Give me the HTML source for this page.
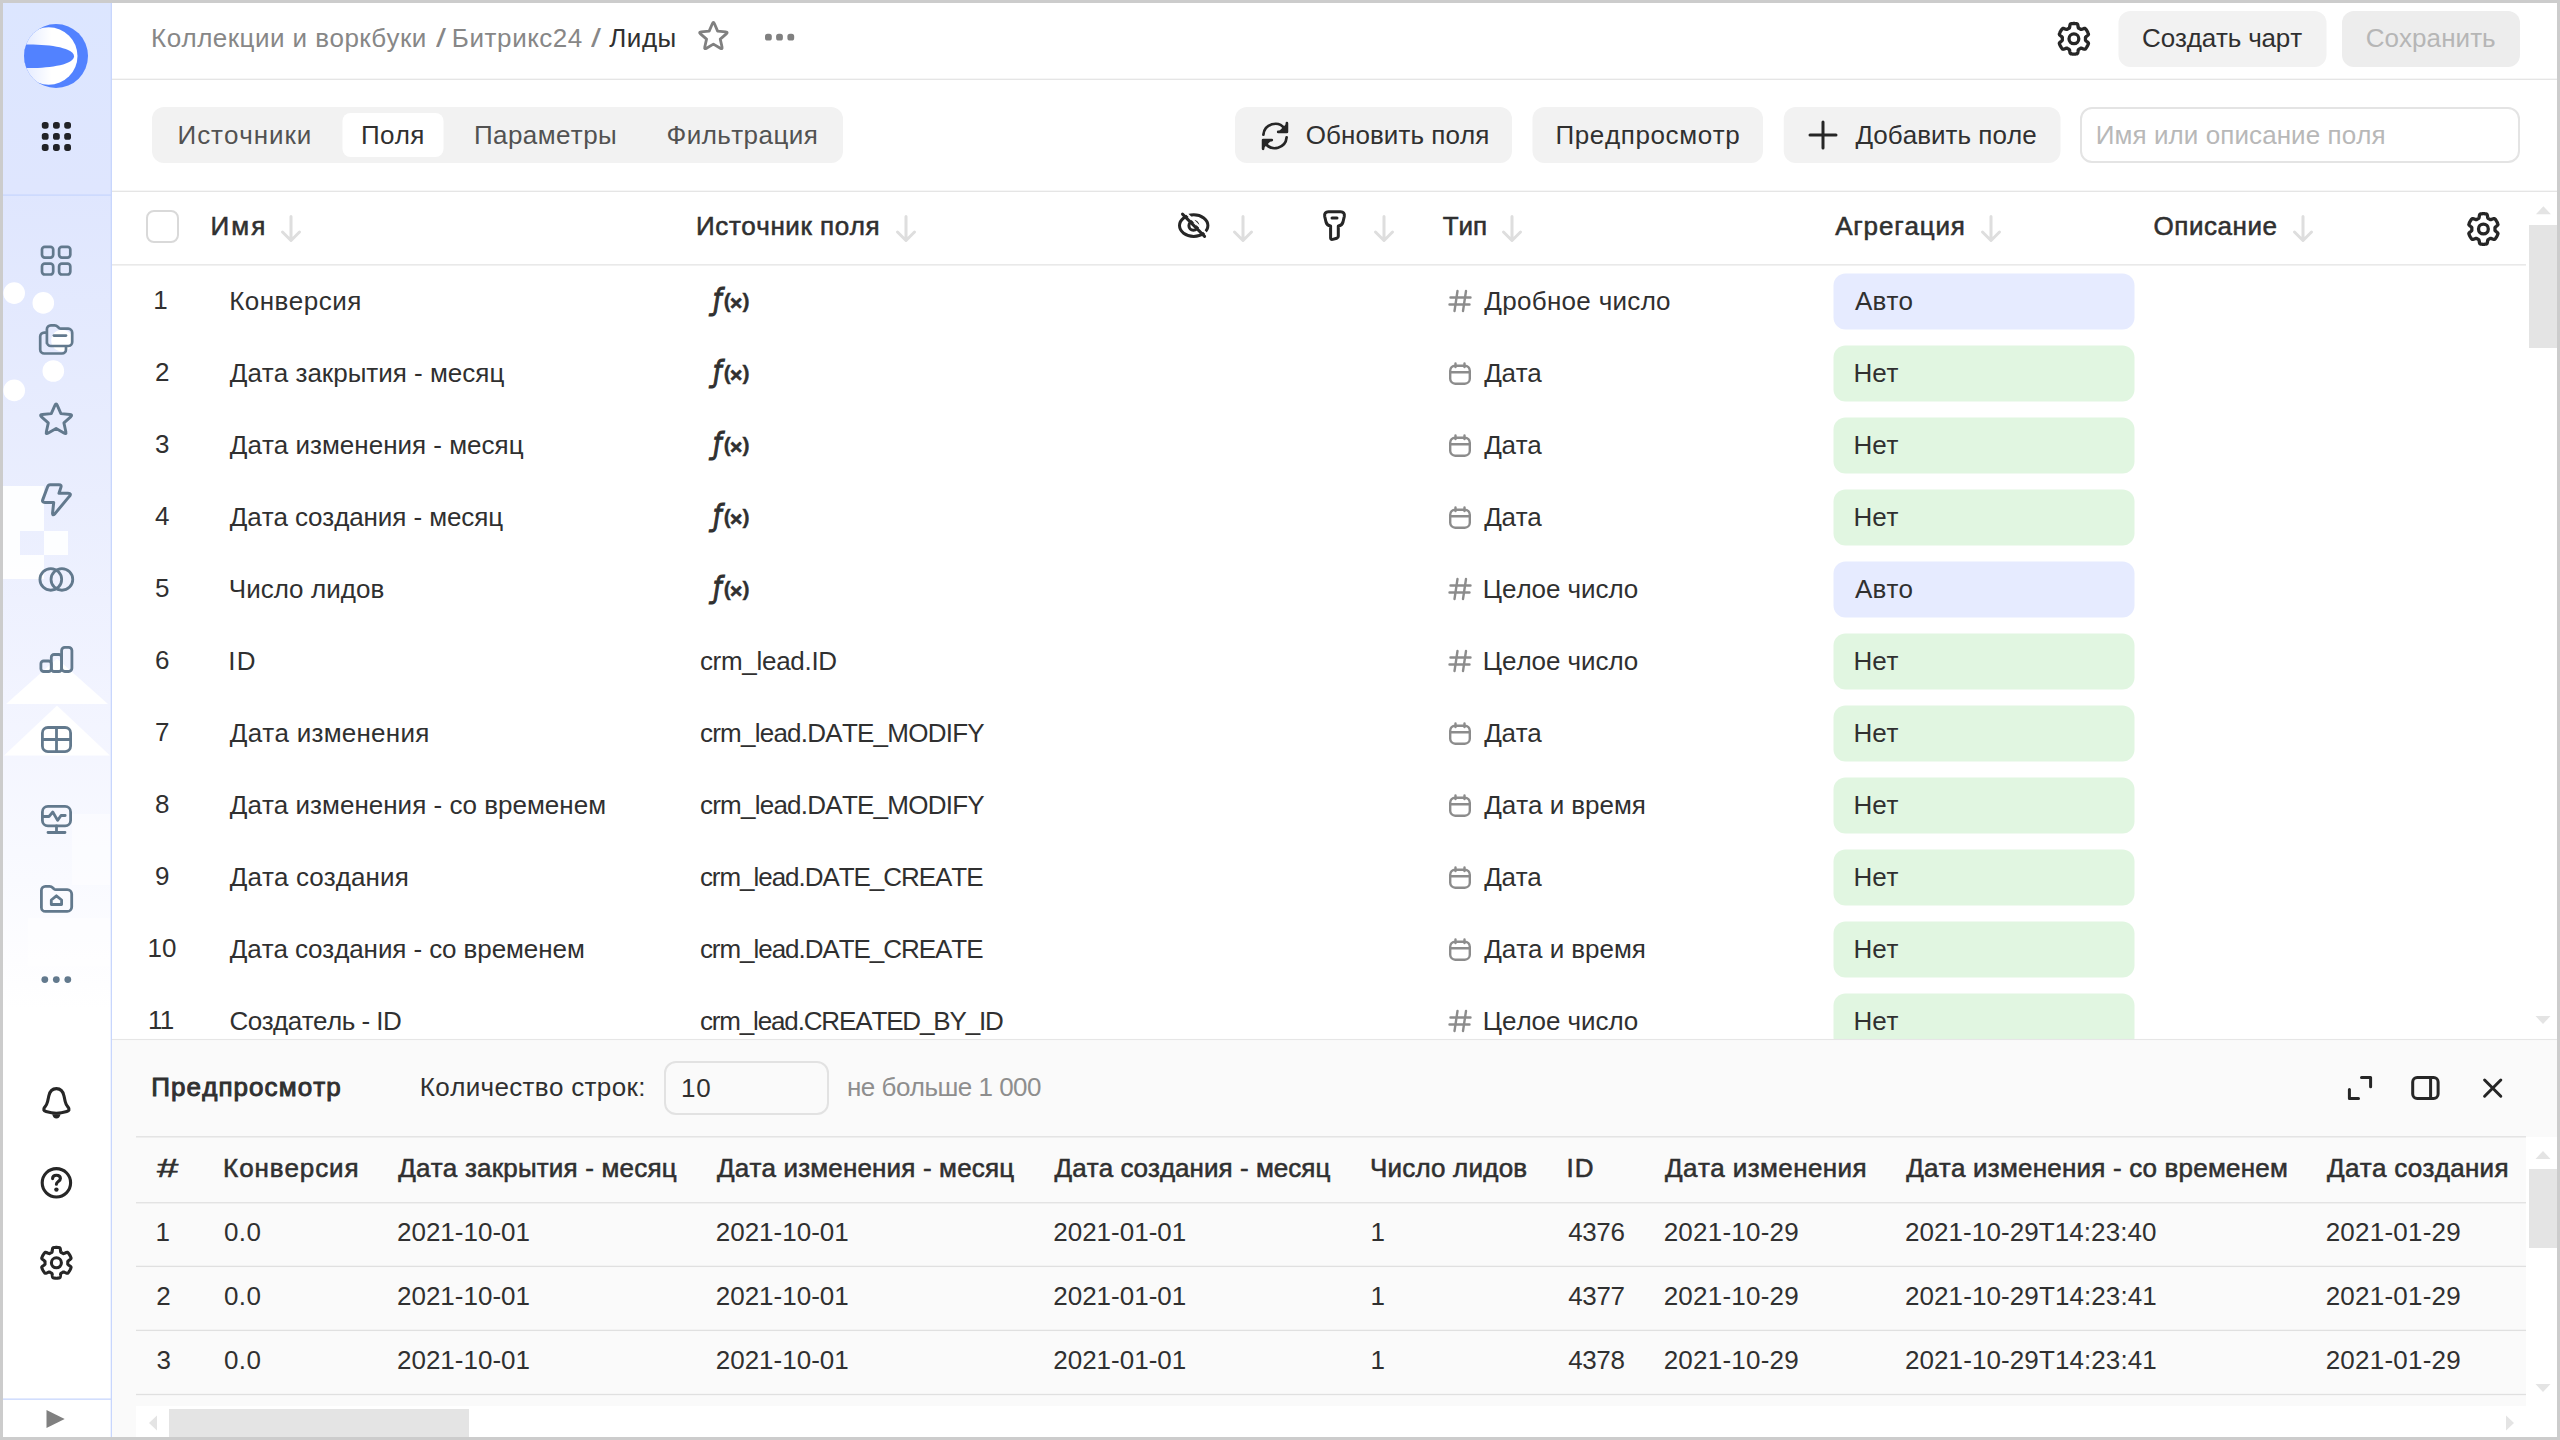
<!DOCTYPE html>
<html lang="ru"><head><meta charset="utf-8"><title>Лиды</title>
<style>
html,body{margin:0;padding:0}
body{width:2560px;height:1440px;overflow:hidden;background:#ccc;position:relative;font-family:"Liberation Sans",sans-serif;font-kerning:none;-webkit-font-smoothing:antialiased}
#app{position:absolute;left:3px;top:3px;width:2554px;height:1434px;background:#fff;overflow:hidden}
#page{position:absolute;left:-3px;top:-3px;width:2560px;height:1440px}
.b{position:absolute;box-sizing:border-box;display:block}
.t{position:absolute;white-space:pre;display:block}
</style></head><body><div id="app"><div id="page">
<svg class="b" style="left:0;top:0" width="2560" height="1440" viewBox="0 0 2560 1440"><rect x="2118.5" y="11" width="208" height="56" rx="12" fill="#f2f2f2"/><rect x="152" y="107" width="691.01" height="56" rx="12" fill="#f2f2f2"/><rect x="342.5" y="113" width="101" height="44" rx="8" fill="#fff"/><rect x="1532.5" y="107" width="230.5" height="56" rx="12" fill="#f2f2f2"/><rect x="1783.75" y="107" width="276.75" height="56" rx="12" fill="#f2f2f2"/><rect x="1833.5" y="273.5" width="301" height="56" rx="12" fill="#e6ebff"/><rect x="1833.5" y="345.5" width="301" height="56" rx="12" fill="#e1f6e1"/><rect x="1833.5" y="417.5" width="301" height="56" rx="12" fill="#e1f6e1"/><rect x="1833.5" y="489.5" width="301" height="56" rx="12" fill="#e1f6e1"/><rect x="1833.5" y="561.5" width="301" height="56" rx="12" fill="#e6ebff"/><rect x="1833.5" y="633.5" width="301" height="56" rx="12" fill="#e1f6e1"/><rect x="1833.5" y="705.5" width="301" height="56" rx="12" fill="#e1f6e1"/><rect x="1833.5" y="777.5" width="301" height="56" rx="12" fill="#e1f6e1"/><rect x="1833.5" y="849.5" width="301" height="56" rx="12" fill="#e1f6e1"/><rect x="1833.5" y="921.5" width="301" height="56" rx="12" fill="#e1f6e1"/><rect x="1833.5" y="993.5" width="301" height="56" rx="12" fill="#e1f6e1"/></svg>
<div class="b " style="left:112px;top:1040px;width:2448px;height:400px;background:#fafafa;"></div>
<div class="b " style="left:2526px;top:1137px;width:34px;height:303px;background:#fff;"></div>
<div class="b " style="left:136px;top:1406px;width:2390px;height:34px;background:#fff;"></div>
<svg class="b" style="left:0;top:0" width="2560" height="1440" viewBox="0 0 2560 1440"><rect x="112" y="78.65" width="2448" height="1.3" fill="#e4e4e4"/><rect x="112" y="190.65" width="2448" height="1.3" fill="#e4e4e4"/><rect x="112" y="264.20" width="2414" height="1.3" fill="#e4e4e4"/><rect x="112" y="1038.95" width="2448" height="1.1" fill="#e6e6e6"/><rect x="136" y="1136.15" width="2390" height="1.3" fill="#e0e0e0"/><rect x="136" y="1202.10" width="2390" height="1.3" fill="#e0e0e0"/><rect x="136" y="1265.75" width="2390" height="1.3" fill="#e0e0e0"/><rect x="136" y="1329.75" width="2390" height="1.3" fill="#e0e0e0"/><rect x="136" y="1393.85" width="2390" height="1.3" fill="#e0e0e0"/></svg>
<div class="b " style="left:2529px;top:225px;width:31px;height:123px;background:#e4e4e4;"></div>
<div class="b " style="left:2529px;top:1169px;width:31px;height:79px;background:#e4e4e4;"></div>
<div class="b " style="left:169px;top:1409px;width:300px;height:31px;background:#e4e4e4;"></div>
<svg class="b" style="left:0;top:0" width="2560" height="1440" viewBox="0 0 2560 1440"><polygon points="2535.9,214.2 2550.9,214.2 2543.4,206.2" fill="#e4e4e4"/></svg>
<svg class="b" style="left:0;top:0" width="2560" height="1440" viewBox="0 0 2560 1440"><polygon points="2535.5,1016 2550.5,1016 2543,1024" fill="#e4e4e4"/></svg>
<svg class="b" style="left:0;top:0" width="2560" height="1440" viewBox="0 0 2560 1440"><polygon points="2535.5,1159 2550.5,1159 2543,1151" fill="#e4e4e4"/></svg>
<svg class="b" style="left:0;top:0" width="2560" height="1440" viewBox="0 0 2560 1440"><polygon points="2535.5,1384 2550.5,1384 2543,1392" fill="#e4e4e4"/></svg>
<svg class="b" style="left:0;top:0" width="2560" height="1440" viewBox="0 0 2560 1440"><polygon points="157,1415.5 157,1430.5 149,1423" fill="#e4e4e4"/></svg>
<svg class="b" style="left:0;top:0" width="2560" height="1440" viewBox="0 0 2560 1440"><polygon points="2506,1415.5 2506,1430.5 2514,1423" fill="#e4e4e4"/></svg>
<span class="t" style="left:151.12px;top:22.49px;font-size:26px;line-height:32px;color:#878787;letter-spacing:0.452px;">Коллекции и воркбуки</span>
<span class="t" style="left:435.75px;top:22.49px;font-size:26px;line-height:32px;color:#878787;transform:scaleX(1.384);transform-origin:0 0;">/</span>
<span class="t" style="left:451.87px;top:22.49px;font-size:26px;line-height:32px;color:#878787;letter-spacing:0.578px;">Битрикс24</span>
<span class="t" style="left:590.75px;top:22.49px;font-size:26px;line-height:32px;color:#878787;transform:scaleX(1.384);transform-origin:0 0;">/</span>
<span class="t" style="left:609.27px;top:22.49px;font-size:26px;line-height:32px;color:#303030;letter-spacing:0.529px;">Лиды</span>
<span class="t" style="left:2142.08px;top:22.49px;font-size:26px;line-height:32px;color:#303030;letter-spacing:-0.170px;">Создать чарт</span>
<div class="b " style="left:2342px;top:11px;width:178px;height:56px;background:#ededed;border-radius:12px;"></div>
<span class="t" style="left:2365.68px;top:22.49px;font-size:26px;line-height:32px;color:#b6b6b6;letter-spacing:0.062px;">Сохранить</span>
<span class="t" style="left:177.57px;top:118.99px;font-size:26px;line-height:32px;color:#525252;letter-spacing:0.907px;">Источники</span>
<span class="t" style="left:360.89px;top:118.99px;font-size:26px;line-height:32px;color:#303030;letter-spacing:0.338px;">Поля</span>
<span class="t" style="left:473.89px;top:118.99px;font-size:26px;line-height:32px;color:#525252;letter-spacing:0.432px;">Параметры</span>
<span class="t" style="left:666.50px;top:118.99px;font-size:26px;line-height:32px;color:#525252;letter-spacing:0.441px;">Фильтрация</span>
<div class="b " style="left:1235px;top:107px;width:277px;height:56px;background:#f2f2f2;border-radius:12px;"></div>
<span class="t" style="left:1305.77px;top:118.99px;font-size:26px;line-height:32px;color:#303030;letter-spacing:0.066px;">Обновить поля</span>
<span class="t" style="left:1555.39px;top:118.99px;font-size:26px;line-height:32px;color:#303030;letter-spacing:0.634px;">Предпросмотр</span>
<span class="t" style="left:1855.56px;top:118.99px;font-size:26px;line-height:32px;color:#303030;letter-spacing:0.041px;">Добавить поле</span>
<div class="b " style="left:2080px;top:107px;width:440px;height:56px;background:#fff;border-radius:12px;border:2px solid #e4e4e4;"></div>
<span class="t" style="left:2095.87px;top:118.99px;font-size:26px;line-height:32px;color:#b8b8b8;letter-spacing:0.075px;">Имя или описание поля</span>
<div class="b " style="left:146px;top:209.5px;width:33px;height:33px;background:#fff;border-radius:8px;border:2px solid #d9d9d9;"></div>
<span class="t" style="left:210.62px;top:209.99px;font-size:26px;line-height:32px;color:#303030;letter-spacing:2.022px;-webkit-text-stroke:0.55px;">Имя</span>
<span class="t" style="left:696.12px;top:209.99px;font-size:26px;line-height:32px;color:#303030;letter-spacing:0.547px;-webkit-text-stroke:0.55px;">Источник поля</span>
<span class="t" style="left:1442.67px;top:209.99px;font-size:26px;line-height:32px;color:#303030;letter-spacing:-0.049px;-webkit-text-stroke:0.55px;">Тип</span>
<span class="t" style="left:1835.20px;top:209.99px;font-size:26px;line-height:32px;color:#303030;letter-spacing:0.803px;-webkit-text-stroke:0.55px;">Агрегация</span>
<span class="t" style="left:2153.52px;top:209.99px;font-size:26px;line-height:32px;color:#303030;letter-spacing:0.537px;-webkit-text-stroke:0.55px;">Описание</span>
<svg class="b" style="left:279.3px;top:213px" width="24" height="32" viewBox="0 0 24 32" fill="none" stroke="#dedede" stroke-width="3" stroke-linecap="round" stroke-linejoin="round"><path d="M12 3.5V27M3.5 19L12 27.5L20.5 19"/></svg>
<svg class="b" style="left:893.7px;top:213px" width="24" height="32" viewBox="0 0 24 32" fill="none" stroke="#dedede" stroke-width="3" stroke-linecap="round" stroke-linejoin="round"><path d="M12 3.5V27M3.5 19L12 27.5L20.5 19"/></svg>
<svg class="b" style="left:1231.2px;top:213px" width="24" height="32" viewBox="0 0 24 32" fill="none" stroke="#dedede" stroke-width="3" stroke-linecap="round" stroke-linejoin="round"><path d="M12 3.5V27M3.5 19L12 27.5L20.5 19"/></svg>
<svg class="b" style="left:1371.7px;top:213px" width="24" height="32" viewBox="0 0 24 32" fill="none" stroke="#dedede" stroke-width="3" stroke-linecap="round" stroke-linejoin="round"><path d="M12 3.5V27M3.5 19L12 27.5L20.5 19"/></svg>
<svg class="b" style="left:1500.2px;top:213px" width="24" height="32" viewBox="0 0 24 32" fill="none" stroke="#dedede" stroke-width="3" stroke-linecap="round" stroke-linejoin="round"><path d="M12 3.5V27M3.5 19L12 27.5L20.5 19"/></svg>
<svg class="b" style="left:1978.7px;top:213px" width="24" height="32" viewBox="0 0 24 32" fill="none" stroke="#dedede" stroke-width="3" stroke-linecap="round" stroke-linejoin="round"><path d="M12 3.5V27M3.5 19L12 27.5L20.5 19"/></svg>
<svg class="b" style="left:2290.7px;top:213px" width="24" height="32" viewBox="0 0 24 32" fill="none" stroke="#dedede" stroke-width="3" stroke-linecap="round" stroke-linejoin="round"><path d="M12 3.5V27M3.5 19L12 27.5L20.5 19"/></svg>
<div class="b" style="left:112px;top:266px;width:2448px;height:773px;overflow:hidden"><div class="b" style="left:-112px;top:-266px;width:2560px;height:1440px">
<span class="t" style="left:153.31px;top:283.99px;font-size:26px;line-height:32px;color:#303030;">1</span>
<span class="t" style="left:229.27px;top:284.99px;font-size:26px;line-height:32px;color:#303030;letter-spacing:0.455px;">Конверсия</span>
<span class="t" style="left:712.96px;top:280.18px;font-size:30.4px;line-height:40px;color:#303030;font-family:'DejaVu Sans',sans-serif;font-style:italic;transform:scaleX(.83);transform-origin:0 0;-webkit-text-stroke:1.1px;">ƒ</span>
<span class="t" style="left:723.65px;top:281.02px;font-size:21px;line-height:40px;color:#303030;font-weight:700;-webkit-text-stroke:.4px;">(</span>
<span class="t" style="left:730.00px;top:282.72px;font-size:21px;line-height:40px;color:#303030;font-weight:700;-webkit-text-stroke:.7px;">×</span>
<span class="t" style="left:742.60px;top:281.02px;font-size:21px;line-height:40px;color:#303030;font-weight:700;-webkit-text-stroke:.4px;">)</span>
<svg class="b" style="left:1447px;top:288px" width="26" height="26" viewBox="0 0 26 26" fill="none" stroke="#8c8c8c" stroke-width="2.4" stroke-linecap="round"><path d="M10.5 3L7.5 23M19 3L16 23M3.5 9.5H23.5M2.5 16.5H22.5"/></svg>
<span class="t" style="left:1484.31px;top:284.99px;font-size:26px;line-height:32px;color:#303030;letter-spacing:0.305px;">Дробное число</span>
<span class="t" style="left:1854.95px;top:284.99px;font-size:26px;line-height:32px;color:#303030;letter-spacing:0.173px;">Авто</span>
<span class="t" style="left:155.02px;top:355.99px;font-size:26px;line-height:32px;color:#303030;">2</span>
<span class="t" style="left:229.81px;top:356.99px;font-size:26px;line-height:32px;color:#303030;">Дата закрытия - месяц</span>
<span class="t" style="left:712.96px;top:352.18px;font-size:30.4px;line-height:40px;color:#303030;font-family:'DejaVu Sans',sans-serif;font-style:italic;transform:scaleX(.83);transform-origin:0 0;-webkit-text-stroke:1.1px;">ƒ</span>
<span class="t" style="left:723.65px;top:353.02px;font-size:21px;line-height:40px;color:#303030;font-weight:700;-webkit-text-stroke:.4px;">(</span>
<span class="t" style="left:730.00px;top:354.72px;font-size:21px;line-height:40px;color:#303030;font-weight:700;-webkit-text-stroke:.7px;">×</span>
<span class="t" style="left:742.60px;top:353.02px;font-size:21px;line-height:40px;color:#303030;font-weight:700;-webkit-text-stroke:.4px;">)</span>
<svg class="b" style="left:1447px;top:360px" width="26" height="28" viewBox="0 0 26 28" fill="none" stroke="#8c8c8c" stroke-width="2.4" stroke-linecap="round"><rect x="3.2" y="5.7" width="19.6" height="18" rx="5"/><path d="M3.5 12.3H22.5M8.5 3.4V7M17.5 3.4V7"/></svg>
<span class="t" style="left:1484.31px;top:356.99px;font-size:26px;line-height:32px;color:#303030;letter-spacing:-0.332px;">Дата</span>
<span class="t" style="left:1853.47px;top:356.99px;font-size:26px;line-height:32px;color:#303030;letter-spacing:-0.084px;">Нет</span>
<span class="t" style="left:155.10px;top:427.99px;font-size:26px;line-height:32px;color:#303030;">3</span>
<span class="t" style="left:229.81px;top:428.99px;font-size:26px;line-height:32px;color:#303030;letter-spacing:0.007px;">Дата изменения - месяц</span>
<span class="t" style="left:712.96px;top:424.18px;font-size:30.4px;line-height:40px;color:#303030;font-family:'DejaVu Sans',sans-serif;font-style:italic;transform:scaleX(.83);transform-origin:0 0;-webkit-text-stroke:1.1px;">ƒ</span>
<span class="t" style="left:723.65px;top:425.02px;font-size:21px;line-height:40px;color:#303030;font-weight:700;-webkit-text-stroke:.4px;">(</span>
<span class="t" style="left:730.00px;top:426.72px;font-size:21px;line-height:40px;color:#303030;font-weight:700;-webkit-text-stroke:.7px;">×</span>
<span class="t" style="left:742.60px;top:425.02px;font-size:21px;line-height:40px;color:#303030;font-weight:700;-webkit-text-stroke:.4px;">)</span>
<svg class="b" style="left:1447px;top:432px" width="26" height="28" viewBox="0 0 26 28" fill="none" stroke="#8c8c8c" stroke-width="2.4" stroke-linecap="round"><rect x="3.2" y="5.7" width="19.6" height="18" rx="5"/><path d="M3.5 12.3H22.5M8.5 3.4V7M17.5 3.4V7"/></svg>
<span class="t" style="left:1484.31px;top:428.99px;font-size:26px;line-height:32px;color:#303030;letter-spacing:-0.332px;">Дата</span>
<span class="t" style="left:1853.47px;top:428.99px;font-size:26px;line-height:32px;color:#303030;letter-spacing:-0.084px;">Нет</span>
<span class="t" style="left:155.10px;top:499.99px;font-size:26px;line-height:32px;color:#303030;">4</span>
<span class="t" style="left:229.81px;top:500.99px;font-size:26px;line-height:32px;color:#303030;letter-spacing:-0.088px;">Дата создания - месяц</span>
<span class="t" style="left:712.96px;top:496.18px;font-size:30.4px;line-height:40px;color:#303030;font-family:'DejaVu Sans',sans-serif;font-style:italic;transform:scaleX(.83);transform-origin:0 0;-webkit-text-stroke:1.1px;">ƒ</span>
<span class="t" style="left:723.65px;top:497.02px;font-size:21px;line-height:40px;color:#303030;font-weight:700;-webkit-text-stroke:.4px;">(</span>
<span class="t" style="left:730.00px;top:498.72px;font-size:21px;line-height:40px;color:#303030;font-weight:700;-webkit-text-stroke:.7px;">×</span>
<span class="t" style="left:742.60px;top:497.02px;font-size:21px;line-height:40px;color:#303030;font-weight:700;-webkit-text-stroke:.4px;">)</span>
<svg class="b" style="left:1447px;top:504px" width="26" height="28" viewBox="0 0 26 28" fill="none" stroke="#8c8c8c" stroke-width="2.4" stroke-linecap="round"><rect x="3.2" y="5.7" width="19.6" height="18" rx="5"/><path d="M3.5 12.3H22.5M8.5 3.4V7M17.5 3.4V7"/></svg>
<span class="t" style="left:1484.31px;top:500.99px;font-size:26px;line-height:32px;color:#303030;letter-spacing:-0.332px;">Дата</span>
<span class="t" style="left:1853.47px;top:500.99px;font-size:26px;line-height:32px;color:#303030;letter-spacing:-0.084px;">Нет</span>
<span class="t" style="left:155.05px;top:571.99px;font-size:26px;line-height:32px;color:#303030;">5</span>
<span class="t" style="left:228.72px;top:572.99px;font-size:26px;line-height:32px;color:#303030;letter-spacing:0.082px;">Число лидов</span>
<span class="t" style="left:712.96px;top:568.18px;font-size:30.4px;line-height:40px;color:#303030;font-family:'DejaVu Sans',sans-serif;font-style:italic;transform:scaleX(.83);transform-origin:0 0;-webkit-text-stroke:1.1px;">ƒ</span>
<span class="t" style="left:723.65px;top:569.02px;font-size:21px;line-height:40px;color:#303030;font-weight:700;-webkit-text-stroke:.4px;">(</span>
<span class="t" style="left:730.00px;top:570.72px;font-size:21px;line-height:40px;color:#303030;font-weight:700;-webkit-text-stroke:.7px;">×</span>
<span class="t" style="left:742.60px;top:569.02px;font-size:21px;line-height:40px;color:#303030;font-weight:700;-webkit-text-stroke:.4px;">)</span>
<svg class="b" style="left:1447px;top:576px" width="26" height="26" viewBox="0 0 26 26" fill="none" stroke="#8c8c8c" stroke-width="2.4" stroke-linecap="round"><path d="M10.5 3L7.5 23M19 3L16 23M3.5 9.5H23.5M2.5 16.5H22.5"/></svg>
<span class="t" style="left:1482.87px;top:572.99px;font-size:26px;line-height:32px;color:#303030;letter-spacing:-0.048px;">Целое число</span>
<span class="t" style="left:1854.95px;top:572.99px;font-size:26px;line-height:32px;color:#303030;letter-spacing:0.173px;">Авто</span>
<span class="t" style="left:154.93px;top:643.99px;font-size:26px;line-height:32px;color:#303030;">6</span>
<span class="t" style="left:228.35px;top:644.99px;font-size:26px;line-height:32px;color:#303030;letter-spacing:1.144px;">ID</span>
<span class="t" style="left:699.90px;top:644.99px;font-size:26px;line-height:32px;color:#303030;letter-spacing:-0.291px;">crm_lead.ID</span>
<svg class="b" style="left:1447px;top:648px" width="26" height="26" viewBox="0 0 26 26" fill="none" stroke="#8c8c8c" stroke-width="2.4" stroke-linecap="round"><path d="M10.5 3L7.5 23M19 3L16 23M3.5 9.5H23.5M2.5 16.5H22.5"/></svg>
<span class="t" style="left:1482.87px;top:644.99px;font-size:26px;line-height:32px;color:#303030;letter-spacing:-0.048px;">Целое число</span>
<span class="t" style="left:1853.47px;top:644.99px;font-size:26px;line-height:32px;color:#303030;letter-spacing:-0.084px;">Нет</span>
<span class="t" style="left:155.01px;top:715.99px;font-size:26px;line-height:32px;color:#303030;">7</span>
<span class="t" style="left:229.81px;top:716.99px;font-size:26px;line-height:32px;color:#303030;letter-spacing:0.252px;">Дата изменения</span>
<span class="t" style="left:699.90px;top:716.99px;font-size:26px;line-height:32px;color:#303030;letter-spacing:-0.752px;">crm_lead.DATE_MODIFY</span>
<svg class="b" style="left:1447px;top:720px" width="26" height="28" viewBox="0 0 26 28" fill="none" stroke="#8c8c8c" stroke-width="2.4" stroke-linecap="round"><rect x="3.2" y="5.7" width="19.6" height="18" rx="5"/><path d="M3.5 12.3H22.5M8.5 3.4V7M17.5 3.4V7"/></svg>
<span class="t" style="left:1484.31px;top:716.99px;font-size:26px;line-height:32px;color:#303030;letter-spacing:-0.332px;">Дата</span>
<span class="t" style="left:1853.47px;top:716.99px;font-size:26px;line-height:32px;color:#303030;letter-spacing:-0.084px;">Нет</span>
<span class="t" style="left:155.02px;top:787.99px;font-size:26px;line-height:32px;color:#303030;">8</span>
<span class="t" style="left:229.81px;top:788.99px;font-size:26px;line-height:32px;color:#303030;letter-spacing:0.017px;">Дата изменения - со временем</span>
<span class="t" style="left:699.90px;top:788.99px;font-size:26px;line-height:32px;color:#303030;letter-spacing:-0.752px;">crm_lead.DATE_MODIFY</span>
<svg class="b" style="left:1447px;top:792px" width="26" height="28" viewBox="0 0 26 28" fill="none" stroke="#8c8c8c" stroke-width="2.4" stroke-linecap="round"><rect x="3.2" y="5.7" width="19.6" height="18" rx="5"/><path d="M3.5 12.3H22.5M8.5 3.4V7M17.5 3.4V7"/></svg>
<span class="t" style="left:1484.31px;top:788.99px;font-size:26px;line-height:32px;color:#303030;letter-spacing:-0.055px;">Дата и время</span>
<span class="t" style="left:1853.47px;top:788.99px;font-size:26px;line-height:32px;color:#303030;letter-spacing:-0.084px;">Нет</span>
<span class="t" style="left:155.03px;top:859.99px;font-size:26px;line-height:32px;color:#303030;">9</span>
<span class="t" style="left:229.81px;top:860.99px;font-size:26px;line-height:32px;color:#303030;letter-spacing:0.113px;">Дата создания</span>
<span class="t" style="left:699.90px;top:860.99px;font-size:26px;line-height:32px;color:#303030;letter-spacing:-1.042px;">crm_lead.DATE_CREATE</span>
<svg class="b" style="left:1447px;top:864px" width="26" height="28" viewBox="0 0 26 28" fill="none" stroke="#8c8c8c" stroke-width="2.4" stroke-linecap="round"><rect x="3.2" y="5.7" width="19.6" height="18" rx="5"/><path d="M3.5 12.3H22.5M8.5 3.4V7M17.5 3.4V7"/></svg>
<span class="t" style="left:1484.31px;top:860.99px;font-size:26px;line-height:32px;color:#303030;letter-spacing:-0.332px;">Дата</span>
<span class="t" style="left:1853.47px;top:860.99px;font-size:26px;line-height:32px;color:#303030;letter-spacing:-0.084px;">Нет</span>
<span class="t" style="left:147.52px;top:931.99px;font-size:26px;line-height:32px;color:#303030;letter-spacing:0.076px;">10</span>
<span class="t" style="left:229.81px;top:932.99px;font-size:26px;line-height:32px;color:#303030;letter-spacing:-0.085px;">Дата создания - со временем</span>
<span class="t" style="left:699.90px;top:932.99px;font-size:26px;line-height:32px;color:#303030;letter-spacing:-1.042px;">crm_lead.DATE_CREATE</span>
<svg class="b" style="left:1447px;top:936px" width="26" height="28" viewBox="0 0 26 28" fill="none" stroke="#8c8c8c" stroke-width="2.4" stroke-linecap="round"><rect x="3.2" y="5.7" width="19.6" height="18" rx="5"/><path d="M3.5 12.3H22.5M8.5 3.4V7M17.5 3.4V7"/></svg>
<span class="t" style="left:1484.31px;top:932.99px;font-size:26px;line-height:32px;color:#303030;letter-spacing:-0.055px;">Дата и время</span>
<span class="t" style="left:1853.47px;top:932.99px;font-size:26px;line-height:32px;color:#303030;letter-spacing:-0.084px;">Нет</span>
<span class="t" style="left:148.02px;top:1003.99px;font-size:26px;line-height:32px;color:#303030;letter-spacing:-2.670px;">11</span>
<span class="t" style="left:229.43px;top:1004.99px;font-size:26px;line-height:32px;color:#303030;letter-spacing:-0.513px;">Создатель - ID</span>
<span class="t" style="left:699.90px;top:1004.99px;font-size:26px;line-height:32px;color:#303030;letter-spacing:-1.145px;">crm_lead.CREATED_BY_ID</span>
<svg class="b" style="left:1447px;top:1008px" width="26" height="26" viewBox="0 0 26 26" fill="none" stroke="#8c8c8c" stroke-width="2.4" stroke-linecap="round"><path d="M10.5 3L7.5 23M19 3L16 23M3.5 9.5H23.5M2.5 16.5H22.5"/></svg>
<span class="t" style="left:1482.87px;top:1004.99px;font-size:26px;line-height:32px;color:#303030;letter-spacing:-0.048px;">Целое число</span>
<span class="t" style="left:1853.47px;top:1004.99px;font-size:26px;line-height:32px;color:#303030;letter-spacing:-0.084px;">Нет</span>
</div></div>
<span class="t" style="left:151.34px;top:1070.99px;font-size:26px;line-height:32px;color:#303030;letter-spacing:1.074px;-webkit-text-stroke:0.95px;">Предпросмотр</span>
<span class="t" style="left:419.87px;top:1070.99px;font-size:26px;line-height:32px;color:#303030;letter-spacing:0.336px;">Количество строк:</span>
<div class="b " style="left:664px;top:1060.5px;width:165px;height:54.5px;background:#fafafa;border-radius:12px;border:2px solid #e2e2e2;"></div>
<span class="t" style="left:681.02px;top:1071.99px;font-size:26px;line-height:32px;color:#303030;letter-spacing:0.676px;">10</span>
<span class="t" style="left:847.00px;top:1070.99px;font-size:26px;line-height:32px;color:#8e8e8e;letter-spacing:-0.514px;">не больше 1 000</span>
<span class="t" style="left:157.20px;top:1152.49px;font-size:26px;line-height:32px;color:#303030;-webkit-text-stroke:0.55px;transform:scaleX(1.478);transform-origin:0 0;">#</span>
<span class="t" style="left:223.12px;top:1152.49px;font-size:26px;line-height:32px;color:#303030;letter-spacing:0.892px;-webkit-text-stroke:0.55px;">Конверсия</span>
<span class="t" style="left:398.31px;top:1152.49px;font-size:26px;line-height:32px;color:#303030;letter-spacing:0.190px;-webkit-text-stroke:0.55px;">Дата закрытия - месяц</span>
<span class="t" style="left:717.06px;top:1152.49px;font-size:26px;line-height:32px;color:#303030;letter-spacing:0.162px;-webkit-text-stroke:0.55px;">Дата изменения - месяц</span>
<span class="t" style="left:1054.56px;top:1152.49px;font-size:26px;line-height:32px;color:#303030;letter-spacing:0.037px;-webkit-text-stroke:0.55px;">Дата создания - месяц</span>
<span class="t" style="left:1369.97px;top:1152.49px;font-size:26px;line-height:32px;color:#303030;letter-spacing:0.232px;-webkit-text-stroke:0.55px;">Число лидов</span>
<span class="t" style="left:1566.60px;top:1152.49px;font-size:26px;line-height:32px;color:#303030;letter-spacing:0.894px;-webkit-text-stroke:0.55px;">ID</span>
<span class="t" style="left:1665.06px;top:1152.49px;font-size:26px;line-height:32px;color:#303030;letter-spacing:0.406px;-webkit-text-stroke:0.55px;">Дата изменения</span>
<span class="t" style="left:1906.31px;top:1152.49px;font-size:26px;line-height:32px;color:#303030;letter-spacing:0.212px;-webkit-text-stroke:0.55px;">Дата изменения - со временем</span>
<span class="t" style="left:2327.06px;top:1152.49px;font-size:26px;line-height:32px;color:#303030;letter-spacing:0.322px;-webkit-text-stroke:0.55px;">Дата создания</span>
<span class="t" style="left:155.52px;top:1216.24px;font-size:26px;line-height:32px;color:#303030;">1</span>
<span class="t" style="left:223.98px;top:1216.24px;font-size:26px;line-height:32px;color:#303030;letter-spacing:0.444px;">0.0</span>
<span class="t" style="left:396.94px;top:1216.24px;font-size:26px;line-height:32px;color:#303030;letter-spacing:0.009px;">2021-10-01</span>
<span class="t" style="left:715.69px;top:1216.24px;font-size:26px;line-height:32px;color:#303030;letter-spacing:0.009px;">2021-10-01</span>
<span class="t" style="left:1053.19px;top:1216.24px;font-size:26px;line-height:32px;color:#303030;letter-spacing:0.009px;">2021-01-01</span>
<span class="t" style="left:1370.52px;top:1216.24px;font-size:26px;line-height:32px;color:#303030;">1</span>
<span class="t" style="left:1568.15px;top:1216.24px;font-size:26px;line-height:32px;color:#303030;letter-spacing:-0.367px;">4376</span>
<span class="t" style="left:1663.69px;top:1216.24px;font-size:26px;line-height:32px;color:#303030;letter-spacing:0.227px;">2021-10-29</span>
<span class="t" style="left:1904.94px;top:1216.24px;font-size:26px;line-height:32px;color:#303030;letter-spacing:0.083px;">2021-10-29T14:23:40</span>
<span class="t" style="left:2325.69px;top:1216.24px;font-size:26px;line-height:32px;color:#303030;letter-spacing:0.227px;">2021-01-29</span>
<span class="t" style="left:156.19px;top:1280.24px;font-size:26px;line-height:32px;color:#303030;">2</span>
<span class="t" style="left:223.98px;top:1280.24px;font-size:26px;line-height:32px;color:#303030;letter-spacing:0.444px;">0.0</span>
<span class="t" style="left:396.94px;top:1280.24px;font-size:26px;line-height:32px;color:#303030;letter-spacing:0.009px;">2021-10-01</span>
<span class="t" style="left:715.69px;top:1280.24px;font-size:26px;line-height:32px;color:#303030;letter-spacing:0.009px;">2021-10-01</span>
<span class="t" style="left:1053.19px;top:1280.24px;font-size:26px;line-height:32px;color:#303030;letter-spacing:0.009px;">2021-01-01</span>
<span class="t" style="left:1370.52px;top:1280.24px;font-size:26px;line-height:32px;color:#303030;">1</span>
<span class="t" style="left:1568.15px;top:1280.24px;font-size:26px;line-height:32px;color:#303030;letter-spacing:-0.312px;">4377</span>
<span class="t" style="left:1663.69px;top:1280.24px;font-size:26px;line-height:32px;color:#303030;letter-spacing:0.227px;">2021-10-29</span>
<span class="t" style="left:1904.94px;top:1280.24px;font-size:26px;line-height:32px;color:#303030;letter-spacing:0.097px;">2021-10-29T14:23:41</span>
<span class="t" style="left:2325.69px;top:1280.24px;font-size:26px;line-height:32px;color:#303030;letter-spacing:0.227px;">2021-01-29</span>
<span class="t" style="left:156.51px;top:1344.24px;font-size:26px;line-height:32px;color:#303030;">3</span>
<span class="t" style="left:223.98px;top:1344.24px;font-size:26px;line-height:32px;color:#303030;letter-spacing:0.444px;">0.0</span>
<span class="t" style="left:396.94px;top:1344.24px;font-size:26px;line-height:32px;color:#303030;letter-spacing:0.009px;">2021-10-01</span>
<span class="t" style="left:715.69px;top:1344.24px;font-size:26px;line-height:32px;color:#303030;letter-spacing:0.009px;">2021-10-01</span>
<span class="t" style="left:1053.19px;top:1344.24px;font-size:26px;line-height:32px;color:#303030;letter-spacing:0.009px;">2021-01-01</span>
<span class="t" style="left:1370.52px;top:1344.24px;font-size:26px;line-height:32px;color:#303030;">1</span>
<span class="t" style="left:1568.15px;top:1344.24px;font-size:26px;line-height:32px;color:#303030;letter-spacing:-0.371px;">4378</span>
<span class="t" style="left:1663.69px;top:1344.24px;font-size:26px;line-height:32px;color:#303030;letter-spacing:0.227px;">2021-10-29</span>
<span class="t" style="left:1904.94px;top:1344.24px;font-size:26px;line-height:32px;color:#303030;letter-spacing:0.097px;">2021-10-29T14:23:41</span>
<span class="t" style="left:2325.69px;top:1344.24px;font-size:26px;line-height:32px;color:#303030;letter-spacing:0.227px;">2021-01-29</span>
<div class="b" style="left:0;top:0;width:112px;height:1440px;background:linear-gradient(180deg,#dce6ff 0,#dfe6fe 190px,#e3e9fe 300px,#eaeefe 500px,#f2f4ff 700px,#f9faff 880px,#fdfdff 960px,#fff 1010px)"></div>
<svg class="b" style="left:0;top:0" width="112" height="1440" viewBox="0 0 112 1440"><circle cx="14.2" cy="293.1" r="10.8" fill="#fff"/><circle cx="43.3" cy="302.9" r="10.8" fill="#fff"/><circle cx="62" cy="340.5" r="10.8" fill="#fff"/><circle cx="53.3" cy="371" r="10.8" fill="#fff"/><circle cx="14.2" cy="390.4" r="10.8" fill="#fff"/><path d="M0 486H44V531H20V555H44V579H0Z" fill="#fff" fill-opacity=".9"/><rect x="44" y="531" width="24" height="24" fill="#fff" fill-opacity=".9"/><path d="M57 658.5L108 704H6Z" fill="#fff"/><path d="M57 705.5L110 755.5H4Z" fill="#fff"/><rect x="72" y="814" width="38" height="71" fill="#fff" fill-opacity=".45"/><rect x="28" y="918" width="82" height="48" fill="#fff" fill-opacity=".45"/><rect x="0" y="194.45" width="112" height="1.3" fill="#c8d6fd"/><rect x="0" y="1398.5" width="112" height="1.3" fill="#c8d6fd"/><rect x="110.7" y="0" width="1.3" height="1440" fill="#c8d6fd"/><defs><clipPath id="lc"><circle cx="56" cy="56" r="32"/></clipPath><linearGradient id="lg" x1="0" x2="1" y1="0" y2="0"><stop offset="0" stop-color="#dfe7ff"/><stop offset=".55" stop-color="#fff"/></linearGradient></defs><circle cx="56" cy="56" r="32" fill="#5282ff"/><g clip-path="url(#lc)"><circle cx="48.7" cy="56" r="28.8" fill="url(#lg)"/><path d="M20 44.6C45 43.5 74 47 74 56.2C74 65.4 45 69 20 67.8Z" fill="#5282ff"/></g><rect x="41.8" y="121.9" width="6.8" height="6.8" rx="2.6" fill="#212226"/><rect x="41.8" y="133.0" width="6.8" height="6.8" rx="2.6" fill="#212226"/><rect x="41.8" y="144.1" width="6.8" height="6.8" rx="2.6" fill="#212226"/><rect x="53.0" y="121.9" width="6.8" height="6.8" rx="2.6" fill="#212226"/><rect x="53.0" y="133.0" width="6.8" height="6.8" rx="2.6" fill="#212226"/><rect x="53.0" y="144.1" width="6.8" height="6.8" rx="2.6" fill="#212226"/><rect x="64.2" y="121.9" width="6.8" height="6.8" rx="2.6" fill="#212226"/><rect x="64.2" y="133.0" width="6.8" height="6.8" rx="2.6" fill="#212226"/><rect x="64.2" y="144.1" width="6.8" height="6.8" rx="2.6" fill="#212226"/><g fill="none" stroke="#62798d" stroke-width="2.7" stroke-linecap="round" stroke-linejoin="round"><rect x="42" y="246.8" width="11.2" height="10.8" rx="2.8"/><rect x="42" y="263.7" width="11.2" height="10.8" rx="2.8"/><rect x="59.1" y="246.8" width="11.2" height="10.8" rx="2.8"/><rect x="59.1" y="263.7" width="11.2" height="10.8" rx="2.8"/></g><g fill="none" stroke="#62798d" stroke-width="2.7" stroke-linecap="round" stroke-linejoin="round"><path d="M46.9 343.2V329.3A4 4 0 0 1 50.9 325.3H54.6C56.2 325.3 57 326 58 327L59.2 328.2C59.7 328.6 60 328.7 60.8 328.7H68.2A4 4 0 0 1 72.2 332.7V342A4 4 0 0 1 68.2 346H50.9A4 4 0 0 1 46.9 342Z"/><path d="M53.9 335.6H66"/><path d="M45.6 332.6H44.2A4 4 0 0 0 40.2 336.6V349.5A4 4 0 0 0 44.2 353.5H62A4 4 0 0 0 66 349.5V347.4"/></g><g fill="none" stroke="#62798d" stroke-width="2.9" stroke-linecap="round" stroke-linejoin="round"><path d="M54.90 405.35Q56.10 402.60 57.30 405.35L60.92 413.67L69.95 414.54Q72.93 414.83 70.69 416.82L63.90 422.83L65.86 431.69Q66.50 434.62 63.92 433.10L56.10 428.50L48.28 433.10Q45.70 434.62 46.34 431.69L48.30 422.83L41.51 416.82Q39.27 414.83 42.25 414.54L51.28 413.67Z"/></g><g fill="none" stroke="#62798d" stroke-width="3.0" stroke-linecap="round" stroke-linejoin="round"><path d="M50.2 484.7H58.9Q61.8 484.7 60.9 487.4L59 493.3H68Q72 493.3 69.3 496.4L55 513.6Q52.2 516.4 52.6 512.8L53.7 502.4H44.9Q41.7 502.4 42.8 499.6L47.6 486.7Q48.3 484.7 50.2 484.7Z"/></g><g fill="none" stroke="#62798d" stroke-width="2.8" stroke-linecap="round" stroke-linejoin="round"><circle cx="50.8" cy="579.4" r="10.85"/><circle cx="61.9" cy="579.4" r="10.85"/></g><g fill="none" stroke="#62798d" stroke-width="2.8" stroke-linecap="round" stroke-linejoin="round"><rect x="40.9" y="661" width="10.4" height="10.5" rx="2.8"/><rect x="51.3" y="654.5" width="10.3" height="17" rx="2.8"/><rect x="61.6" y="647.4" width="10.3" height="24.1" rx="3.2"/></g><g fill="none" stroke="#62798d" stroke-width="2.8" stroke-linecap="round" stroke-linejoin="round"><rect x="42.4" y="727.5" width="28.2" height="24.1" rx="5.5"/><path d="M56.5 727.5V751.6M42.4 739.5H70.6"/></g><g fill="none" stroke="#62798d" stroke-width="2.8" stroke-linecap="round" stroke-linejoin="round"><rect x="42.4" y="806.4" width="28.2" height="19.5" rx="5.5"/><path d="M56.5 826V832.5M48 832.5H65"/><path d="M42.6 816.5H49L52.8 812L57.6 820.4L61 815.5H65.2"/></g><g fill="none" stroke="#62798d" stroke-width="2.8" stroke-linecap="round" stroke-linejoin="round"><path d="M41.4 907.4V890.4A4 4 0 0 1 45.4 886.4H49.6C51.2 886.4 52 887 53 888L54 889C54.6 889.5 55 889.6 55.8 889.6H67.2A4.5 4.5 0 0 1 71.7 894.1V906.9A4.5 4.5 0 0 1 67.2 911.4H45.4A4 4 0 0 1 41.4 907.4Z"/><path d="M56.4 895.8L61.6 900V904.5H51.3V900Z"/></g><circle cx="44.8" cy="979.6" r="3.4" fill="#62798d"/><circle cx="56.3" cy="979.6" r="3.4" fill="#62798d"/><circle cx="67.8" cy="979.6" r="3.4" fill="#62798d"/><g fill="none" stroke="#262626" stroke-width="3.1" stroke-linecap="round" stroke-linejoin="round"><path d="M56.4 1088.6C51.5 1088.6 49.6 1092 48.8 1096L47.6 1101.5C47 1104.5 45.8 1105.8 44.6 1107.3C43 1109.3 43.6 1110.8 46 1111.5C50 1112.7 53 1113.2 56.4 1113.2C59.8 1113.2 62.8 1112.7 66.8 1111.5C69.2 1110.8 69.8 1109.3 68.2 1107.3C67 1105.8 65.8 1104.5 65.2 1101.5L64 1096C63.2 1092 61.3 1088.6 56.4 1088.6Z"/></g><path d="M52.2 1114.2H60.6C60 1117 58.6 1118.5 56.4 1118.5C54.2 1118.5 52.8 1117 52.2 1114.2Z" fill="#262626"/><g fill="none" stroke="#262626" stroke-width="3.1" stroke-linecap="round" stroke-linejoin="round"><circle cx="56.4" cy="1182.8" r="14.2"/><path d="M52.6 1178.6C52.6 1176.4 54.2 1175.2 56.4 1175.2C58.8 1175.2 60.4 1176.6 60.4 1178.5C60.4 1181.5 56.4 1181.6 56.4 1184.2"/></g><circle cx="56.4" cy="1189.6" r="2.2" fill="#262626"/><g fill="none" stroke="#262626" stroke-width="3.1" stroke-linecap="round" stroke-linejoin="round"><polygon points="56.40,1247.40 56.67,1247.40 56.94,1247.41 57.21,1247.42 57.47,1247.44 57.74,1247.46 58.01,1247.48 58.28,1247.51 58.54,1247.55 58.81,1247.59 59.07,1247.63 59.34,1247.68 59.60,1247.74 59.85,1247.87 60.05,1248.16 60.21,1248.58 60.33,1249.09 60.42,1249.65 60.49,1250.22 60.54,1250.77 60.60,1251.25 60.67,1251.66 60.77,1251.98 60.89,1252.22 61.04,1252.37 61.22,1252.47 61.40,1252.55 61.58,1252.64 61.75,1252.73 61.93,1252.83 62.10,1252.93 62.27,1253.03 62.44,1253.13 62.61,1253.24 62.77,1253.35 62.94,1253.46 63.11,1253.57 63.32,1253.62 63.58,1253.61 63.91,1253.53 64.30,1253.39 64.75,1253.20 65.25,1252.97 65.78,1252.75 66.31,1252.54 66.81,1252.39 67.26,1252.32 67.61,1252.35 67.84,1252.50 68.02,1252.70 68.20,1252.90 68.37,1253.11 68.54,1253.32 68.70,1253.53 68.86,1253.75 69.01,1253.97 69.17,1254.19 69.32,1254.41 69.46,1254.64 69.60,1254.87 69.74,1255.10 69.87,1255.33 70.00,1255.57 70.12,1255.81 70.24,1256.05 70.36,1256.29 70.47,1256.54 70.58,1256.78 70.68,1257.03 70.78,1257.28 70.87,1257.53 70.96,1257.79 71.05,1258.04 71.06,1258.32 70.91,1258.64 70.62,1258.99 70.24,1259.35 69.80,1259.71 69.33,1260.05 68.89,1260.37 68.50,1260.67 68.18,1260.93 67.95,1261.18 67.81,1261.40 67.75,1261.61 67.76,1261.81 67.77,1262.00 67.78,1262.20 67.79,1262.40 67.80,1262.60 67.80,1262.80 67.80,1263.00 67.79,1263.20 67.78,1263.40 67.77,1263.60 67.76,1263.79 67.75,1263.99 67.81,1264.20 67.95,1264.42 68.18,1264.67 68.50,1264.93 68.89,1265.23 69.33,1265.55 69.80,1265.89 70.24,1266.25 70.62,1266.61 70.91,1266.96 71.06,1267.28 71.05,1267.56 70.96,1267.81 70.87,1268.07 70.78,1268.32 70.68,1268.57 70.58,1268.82 70.47,1269.06 70.36,1269.31 70.24,1269.55 70.12,1269.79 70.00,1270.03 69.87,1270.27 69.74,1270.50 69.60,1270.73 69.46,1270.96 69.32,1271.19 69.17,1271.41 69.01,1271.63 68.86,1271.85 68.70,1272.07 68.54,1272.28 68.37,1272.49 68.20,1272.70 68.02,1272.90 67.84,1273.10 67.61,1273.25 67.26,1273.28 66.81,1273.21 66.31,1273.06 65.78,1272.85 65.25,1272.63 64.75,1272.40 64.30,1272.21 63.91,1272.07 63.58,1271.99 63.32,1271.98 63.11,1272.03 62.94,1272.14 62.77,1272.25 62.61,1272.36 62.44,1272.47 62.27,1272.57 62.10,1272.67 61.93,1272.77 61.75,1272.87 61.58,1272.96 61.40,1273.05 61.22,1273.13 61.04,1273.23 60.89,1273.38 60.77,1273.62 60.67,1273.94 60.60,1274.35 60.54,1274.83 60.49,1275.38 60.42,1275.95 60.33,1276.51 60.21,1277.02 60.05,1277.44 59.85,1277.73 59.60,1277.86 59.34,1277.92 59.07,1277.97 58.81,1278.01 58.54,1278.05 58.28,1278.09 58.01,1278.12 57.74,1278.14 57.47,1278.16 57.21,1278.18 56.94,1278.19 56.67,1278.20 56.40,1278.20 56.13,1278.20 55.86,1278.19 55.59,1278.18 55.33,1278.16 55.06,1278.14 54.79,1278.12 54.52,1278.09 54.26,1278.05 53.99,1278.01 53.73,1277.97 53.46,1277.92 53.20,1277.86 52.95,1277.73 52.75,1277.44 52.59,1277.02 52.47,1276.51 52.38,1275.95 52.31,1275.38 52.26,1274.83 52.20,1274.35 52.13,1273.94 52.03,1273.62 51.91,1273.38 51.76,1273.23 51.58,1273.13 51.40,1273.05 51.22,1272.96 51.05,1272.87 50.87,1272.77 50.70,1272.67 50.53,1272.57 50.36,1272.47 50.19,1272.36 50.03,1272.25 49.86,1272.14 49.69,1272.03 49.48,1271.98 49.22,1271.99 48.89,1272.07 48.50,1272.21 48.05,1272.40 47.55,1272.63 47.02,1272.85 46.49,1273.06 45.99,1273.21 45.54,1273.28 45.19,1273.25 44.96,1273.10 44.78,1272.90 44.60,1272.70 44.43,1272.49 44.26,1272.28 44.10,1272.07 43.94,1271.85 43.79,1271.63 43.63,1271.41 43.48,1271.19 43.34,1270.96 43.20,1270.73 43.06,1270.50 42.93,1270.27 42.80,1270.03 42.68,1269.79 42.56,1269.55 42.44,1269.31 42.33,1269.06 42.22,1268.82 42.12,1268.57 42.02,1268.32 41.93,1268.07 41.84,1267.81 41.75,1267.56 41.74,1267.28 41.89,1266.96 42.18,1266.61 42.56,1266.25 43.00,1265.89 43.47,1265.55 43.91,1265.23 44.30,1264.93 44.62,1264.67 44.85,1264.42 44.99,1264.20 45.05,1263.99 45.04,1263.79 45.03,1263.60 45.02,1263.40 45.01,1263.20 45.00,1263.00 45.00,1262.80 45.00,1262.60 45.01,1262.40 45.02,1262.20 45.03,1262.00 45.04,1261.81 45.05,1261.61 44.99,1261.40 44.85,1261.18 44.62,1260.93 44.30,1260.67 43.91,1260.37 43.47,1260.05 43.00,1259.71 42.56,1259.35 42.18,1258.99 41.89,1258.64 41.74,1258.32 41.75,1258.04 41.84,1257.79 41.93,1257.53 42.02,1257.28 42.12,1257.03 42.22,1256.78 42.33,1256.54 42.44,1256.29 42.56,1256.05 42.68,1255.81 42.80,1255.57 42.93,1255.33 43.06,1255.10 43.20,1254.87 43.34,1254.64 43.48,1254.41 43.63,1254.19 43.79,1253.97 43.94,1253.75 44.10,1253.53 44.26,1253.32 44.43,1253.11 44.60,1252.90 44.78,1252.70 44.96,1252.50 45.19,1252.35 45.54,1252.32 45.99,1252.39 46.49,1252.54 47.02,1252.75 47.55,1252.97 48.05,1253.20 48.50,1253.39 48.89,1253.53 49.22,1253.61 49.48,1253.62 49.69,1253.57 49.86,1253.46 50.03,1253.35 50.19,1253.24 50.36,1253.13 50.53,1253.03 50.70,1252.93 50.87,1252.83 51.05,1252.73 51.22,1252.64 51.40,1252.55 51.58,1252.47 51.76,1252.37 51.91,1252.22 52.03,1251.98 52.13,1251.66 52.20,1251.25 52.26,1250.77 52.31,1250.22 52.38,1249.65 52.47,1249.09 52.59,1248.58 52.75,1248.16 52.95,1247.87 53.20,1247.74 53.46,1247.68 53.73,1247.63 53.99,1247.59 54.26,1247.55 54.52,1247.51 54.79,1247.48 55.06,1247.46 55.33,1247.44 55.59,1247.42 55.86,1247.41 56.13,1247.40"/><circle cx="56.4" cy="1262.8" r="5.0"/></g><path d="M46.5 1410L64.7 1419L46.5 1428Z" fill="#808080"/></svg>
<svg class="b" style="left:0;top:0" width="2560" height="1440" viewBox="0 0 2560 1440"><g fill="none" stroke="#808080" stroke-width="2.8" stroke-linecap="round" stroke-linejoin="round"><path d="M712.34 23.68Q713.40 21.20 714.46 23.68L717.63 31.08L725.64 31.80Q728.33 32.05 726.30 33.83L720.25 39.12L722.03 46.97Q722.63 49.60 720.31 48.22L713.40 44.10L706.49 48.22Q704.17 49.60 704.77 46.97L706.55 39.12L700.50 33.83Q698.47 32.05 701.16 31.80L709.17 31.08Z"/></g><rect x="765.0" y="33.8" width="6.8" height="6.8" rx="2.6" fill="#808080"/><rect x="776.1" y="33.8" width="6.8" height="6.8" rx="2.6" fill="#808080"/><rect x="787.4" y="33.8" width="6.8" height="6.8" rx="2.6" fill="#808080"/><g fill="none" stroke="#262626" stroke-width="3.3" stroke-linecap="round" stroke-linejoin="round"><polygon points="2073.90,23.50 2074.17,23.50 2074.43,23.51 2074.70,23.52 2074.97,23.54 2075.23,23.56 2075.50,23.58 2075.76,23.61 2076.03,23.65 2076.29,23.69 2076.56,23.73 2076.82,23.78 2077.08,23.83 2077.33,23.96 2077.53,24.23 2077.70,24.62 2077.83,25.10 2077.93,25.63 2078.01,26.16 2078.08,26.67 2078.15,27.13 2078.23,27.51 2078.34,27.82 2078.47,28.04 2078.62,28.19 2078.80,28.29 2078.99,28.37 2079.17,28.46 2079.35,28.56 2079.52,28.65 2079.70,28.75 2079.87,28.86 2080.05,28.96 2080.22,29.07 2080.39,29.18 2080.55,29.30 2080.73,29.40 2080.94,29.46 2081.19,29.47 2081.51,29.40 2081.88,29.29 2082.31,29.12 2082.79,28.93 2083.29,28.73 2083.80,28.55 2084.28,28.42 2084.70,28.37 2085.04,28.41 2085.27,28.56 2085.45,28.76 2085.62,28.97 2085.79,29.17 2085.96,29.38 2086.12,29.59 2086.28,29.81 2086.43,30.02 2086.58,30.24 2086.73,30.47 2086.88,30.69 2087.01,30.92 2087.15,31.15 2087.28,31.38 2087.41,31.62 2087.53,31.85 2087.65,32.09 2087.77,32.33 2087.88,32.58 2087.98,32.82 2088.09,33.07 2088.18,33.32 2088.28,33.57 2088.37,33.82 2088.45,34.07 2088.47,34.35 2088.33,34.66 2088.08,35.00 2087.73,35.35 2087.32,35.70 2086.90,36.04 2086.49,36.35 2086.13,36.64 2085.84,36.91 2085.63,37.15 2085.50,37.38 2085.45,37.59 2085.46,37.79 2085.47,37.99 2085.48,38.19 2085.49,38.40 2085.50,38.60 2085.50,38.80 2085.50,39.00 2085.49,39.20 2085.48,39.41 2085.47,39.61 2085.46,39.81 2085.45,40.01 2085.50,40.22 2085.63,40.45 2085.84,40.69 2086.13,40.96 2086.49,41.25 2086.90,41.56 2087.32,41.90 2087.73,42.25 2088.08,42.60 2088.33,42.94 2088.47,43.25 2088.45,43.53 2088.37,43.78 2088.28,44.03 2088.18,44.28 2088.09,44.53 2087.98,44.78 2087.88,45.02 2087.77,45.27 2087.65,45.51 2087.53,45.75 2087.41,45.98 2087.28,46.22 2087.15,46.45 2087.01,46.68 2086.88,46.91 2086.73,47.13 2086.58,47.36 2086.43,47.58 2086.28,47.79 2086.12,48.01 2085.96,48.22 2085.79,48.43 2085.62,48.63 2085.45,48.84 2085.27,49.04 2085.04,49.19 2084.70,49.23 2084.28,49.18 2083.80,49.05 2083.29,48.87 2082.79,48.67 2082.31,48.48 2081.88,48.31 2081.51,48.20 2081.19,48.13 2080.94,48.14 2080.73,48.20 2080.55,48.30 2080.39,48.42 2080.22,48.53 2080.05,48.64 2079.87,48.74 2079.70,48.85 2079.52,48.95 2079.35,49.04 2079.17,49.14 2078.99,49.23 2078.80,49.31 2078.62,49.41 2078.47,49.56 2078.34,49.78 2078.23,50.09 2078.15,50.47 2078.08,50.93 2078.01,51.44 2077.93,51.97 2077.83,52.50 2077.70,52.98 2077.53,53.37 2077.33,53.64 2077.08,53.77 2076.82,53.82 2076.56,53.87 2076.29,53.91 2076.03,53.95 2075.76,53.99 2075.50,54.02 2075.23,54.04 2074.97,54.06 2074.70,54.08 2074.43,54.09 2074.17,54.10 2073.90,54.10 2073.63,54.10 2073.37,54.09 2073.10,54.08 2072.83,54.06 2072.57,54.04 2072.30,54.02 2072.04,53.99 2071.77,53.95 2071.51,53.91 2071.24,53.87 2070.98,53.82 2070.72,53.77 2070.47,53.64 2070.27,53.37 2070.10,52.98 2069.97,52.50 2069.87,51.97 2069.79,51.44 2069.72,50.93 2069.65,50.47 2069.57,50.09 2069.46,49.78 2069.33,49.56 2069.18,49.41 2069.00,49.31 2068.81,49.23 2068.63,49.14 2068.45,49.04 2068.28,48.95 2068.10,48.85 2067.93,48.74 2067.75,48.64 2067.58,48.53 2067.41,48.42 2067.25,48.30 2067.07,48.20 2066.86,48.14 2066.61,48.13 2066.29,48.20 2065.92,48.31 2065.49,48.48 2065.01,48.67 2064.51,48.87 2064.00,49.05 2063.52,49.18 2063.10,49.23 2062.76,49.19 2062.53,49.04 2062.35,48.84 2062.18,48.63 2062.01,48.43 2061.84,48.22 2061.68,48.01 2061.52,47.79 2061.37,47.58 2061.22,47.36 2061.07,47.13 2060.92,46.91 2060.79,46.68 2060.65,46.45 2060.52,46.22 2060.39,45.98 2060.27,45.75 2060.15,45.51 2060.03,45.27 2059.92,45.02 2059.82,44.78 2059.71,44.53 2059.62,44.28 2059.52,44.03 2059.43,43.78 2059.35,43.53 2059.33,43.25 2059.47,42.94 2059.72,42.60 2060.07,42.25 2060.48,41.90 2060.90,41.56 2061.31,41.25 2061.67,40.96 2061.96,40.69 2062.17,40.45 2062.30,40.22 2062.35,40.01 2062.34,39.81 2062.33,39.61 2062.32,39.41 2062.31,39.20 2062.30,39.00 2062.30,38.80 2062.30,38.60 2062.31,38.40 2062.32,38.19 2062.33,37.99 2062.34,37.79 2062.35,37.59 2062.30,37.38 2062.17,37.15 2061.96,36.91 2061.67,36.64 2061.31,36.35 2060.90,36.04 2060.48,35.70 2060.07,35.35 2059.72,35.00 2059.47,34.66 2059.33,34.35 2059.35,34.07 2059.43,33.82 2059.52,33.57 2059.62,33.32 2059.71,33.07 2059.82,32.82 2059.92,32.58 2060.03,32.33 2060.15,32.09 2060.27,31.85 2060.39,31.62 2060.52,31.38 2060.65,31.15 2060.79,30.92 2060.92,30.69 2061.07,30.47 2061.22,30.24 2061.37,30.02 2061.52,29.81 2061.68,29.59 2061.84,29.38 2062.01,29.17 2062.18,28.97 2062.35,28.76 2062.53,28.56 2062.76,28.41 2063.10,28.37 2063.52,28.42 2064.00,28.55 2064.51,28.73 2065.01,28.93 2065.49,29.12 2065.92,29.29 2066.29,29.40 2066.61,29.47 2066.86,29.46 2067.07,29.40 2067.25,29.30 2067.41,29.18 2067.58,29.07 2067.75,28.96 2067.93,28.86 2068.10,28.75 2068.28,28.65 2068.45,28.56 2068.63,28.46 2068.81,28.37 2069.00,28.29 2069.18,28.19 2069.33,28.04 2069.46,27.82 2069.57,27.51 2069.65,27.13 2069.72,26.67 2069.79,26.16 2069.87,25.63 2069.97,25.10 2070.10,24.62 2070.27,24.23 2070.47,23.96 2070.72,23.83 2070.98,23.78 2071.24,23.73 2071.51,23.69 2071.77,23.65 2072.04,23.61 2072.30,23.58 2072.57,23.56 2072.83,23.54 2073.10,23.52 2073.37,23.51 2073.63,23.50"/><circle cx="2073.9" cy="38.8" r="4.9"/></g><g fill="none" stroke="#262626" stroke-width="3.3" stroke-linecap="round" stroke-linejoin="round"><polygon points="2483.40,213.70 2483.67,213.70 2483.93,213.71 2484.20,213.72 2484.47,213.74 2484.73,213.76 2485.00,213.78 2485.26,213.81 2485.53,213.85 2485.79,213.89 2486.06,213.93 2486.32,213.98 2486.58,214.03 2486.83,214.16 2487.03,214.43 2487.20,214.82 2487.33,215.30 2487.43,215.83 2487.51,216.36 2487.58,216.87 2487.65,217.33 2487.73,217.71 2487.84,218.02 2487.97,218.24 2488.12,218.39 2488.30,218.49 2488.49,218.57 2488.67,218.66 2488.85,218.76 2489.02,218.85 2489.20,218.95 2489.37,219.06 2489.55,219.16 2489.72,219.27 2489.89,219.38 2490.05,219.50 2490.23,219.60 2490.44,219.66 2490.69,219.67 2491.01,219.60 2491.38,219.49 2491.81,219.32 2492.29,219.13 2492.79,218.93 2493.30,218.75 2493.78,218.62 2494.20,218.57 2494.54,218.61 2494.77,218.76 2494.95,218.96 2495.12,219.17 2495.29,219.37 2495.46,219.58 2495.62,219.79 2495.78,220.01 2495.93,220.22 2496.08,220.44 2496.23,220.67 2496.38,220.89 2496.51,221.12 2496.65,221.35 2496.78,221.58 2496.91,221.82 2497.03,222.05 2497.15,222.29 2497.27,222.53 2497.38,222.78 2497.48,223.02 2497.59,223.27 2497.68,223.52 2497.78,223.77 2497.87,224.02 2497.95,224.27 2497.97,224.55 2497.83,224.86 2497.58,225.20 2497.23,225.55 2496.82,225.90 2496.40,226.24 2495.99,226.55 2495.63,226.84 2495.34,227.11 2495.13,227.35 2495.00,227.58 2494.95,227.79 2494.96,227.99 2494.97,228.19 2494.98,228.39 2494.99,228.60 2495.00,228.80 2495.00,229.00 2495.00,229.20 2494.99,229.40 2494.98,229.61 2494.97,229.81 2494.96,230.01 2494.95,230.21 2495.00,230.42 2495.13,230.65 2495.34,230.89 2495.63,231.16 2495.99,231.45 2496.40,231.76 2496.82,232.10 2497.23,232.45 2497.58,232.80 2497.83,233.14 2497.97,233.45 2497.95,233.73 2497.87,233.98 2497.78,234.23 2497.68,234.48 2497.59,234.73 2497.48,234.98 2497.38,235.22 2497.27,235.47 2497.15,235.71 2497.03,235.95 2496.91,236.18 2496.78,236.42 2496.65,236.65 2496.51,236.88 2496.38,237.11 2496.23,237.33 2496.08,237.56 2495.93,237.78 2495.78,237.99 2495.62,238.21 2495.46,238.42 2495.29,238.63 2495.12,238.83 2494.95,239.04 2494.77,239.24 2494.54,239.39 2494.20,239.43 2493.78,239.38 2493.30,239.25 2492.79,239.07 2492.29,238.87 2491.81,238.68 2491.38,238.51 2491.01,238.40 2490.69,238.33 2490.44,238.34 2490.23,238.40 2490.05,238.50 2489.89,238.62 2489.72,238.73 2489.55,238.84 2489.37,238.94 2489.20,239.05 2489.02,239.15 2488.85,239.24 2488.67,239.34 2488.49,239.43 2488.30,239.51 2488.12,239.61 2487.97,239.76 2487.84,239.98 2487.73,240.29 2487.65,240.67 2487.58,241.13 2487.51,241.64 2487.43,242.17 2487.33,242.70 2487.20,243.18 2487.03,243.57 2486.83,243.84 2486.58,243.97 2486.32,244.02 2486.06,244.07 2485.79,244.11 2485.53,244.15 2485.26,244.19 2485.00,244.22 2484.73,244.24 2484.47,244.26 2484.20,244.28 2483.93,244.29 2483.67,244.30 2483.40,244.30 2483.13,244.30 2482.87,244.29 2482.60,244.28 2482.33,244.26 2482.07,244.24 2481.80,244.22 2481.54,244.19 2481.27,244.15 2481.01,244.11 2480.74,244.07 2480.48,244.02 2480.22,243.97 2479.97,243.84 2479.77,243.57 2479.60,243.18 2479.47,242.70 2479.37,242.17 2479.29,241.64 2479.22,241.13 2479.15,240.67 2479.07,240.29 2478.96,239.98 2478.83,239.76 2478.68,239.61 2478.50,239.51 2478.31,239.43 2478.13,239.34 2477.95,239.24 2477.78,239.15 2477.60,239.05 2477.43,238.94 2477.25,238.84 2477.08,238.73 2476.91,238.62 2476.75,238.50 2476.57,238.40 2476.36,238.34 2476.11,238.33 2475.79,238.40 2475.42,238.51 2474.99,238.68 2474.51,238.87 2474.01,239.07 2473.50,239.25 2473.02,239.38 2472.60,239.43 2472.26,239.39 2472.03,239.24 2471.85,239.04 2471.68,238.83 2471.51,238.63 2471.34,238.42 2471.18,238.21 2471.02,237.99 2470.87,237.78 2470.72,237.56 2470.57,237.33 2470.42,237.11 2470.29,236.88 2470.15,236.65 2470.02,236.42 2469.89,236.18 2469.77,235.95 2469.65,235.71 2469.53,235.47 2469.42,235.22 2469.32,234.98 2469.21,234.73 2469.12,234.48 2469.02,234.23 2468.93,233.98 2468.85,233.73 2468.83,233.45 2468.97,233.14 2469.22,232.80 2469.57,232.45 2469.98,232.10 2470.40,231.76 2470.81,231.45 2471.17,231.16 2471.46,230.89 2471.67,230.65 2471.80,230.42 2471.85,230.21 2471.84,230.01 2471.83,229.81 2471.82,229.61 2471.81,229.40 2471.80,229.20 2471.80,229.00 2471.80,228.80 2471.81,228.60 2471.82,228.39 2471.83,228.19 2471.84,227.99 2471.85,227.79 2471.80,227.58 2471.67,227.35 2471.46,227.11 2471.17,226.84 2470.81,226.55 2470.40,226.24 2469.98,225.90 2469.57,225.55 2469.22,225.20 2468.97,224.86 2468.83,224.55 2468.85,224.27 2468.93,224.02 2469.02,223.77 2469.12,223.52 2469.21,223.27 2469.32,223.02 2469.42,222.78 2469.53,222.53 2469.65,222.29 2469.77,222.05 2469.89,221.82 2470.02,221.58 2470.15,221.35 2470.29,221.12 2470.42,220.89 2470.57,220.67 2470.72,220.44 2470.87,220.22 2471.02,220.01 2471.18,219.79 2471.34,219.58 2471.51,219.37 2471.68,219.17 2471.85,218.96 2472.03,218.76 2472.26,218.61 2472.60,218.57 2473.02,218.62 2473.50,218.75 2474.01,218.93 2474.51,219.13 2474.99,219.32 2475.42,219.49 2475.79,219.60 2476.11,219.67 2476.36,219.66 2476.57,219.60 2476.75,219.50 2476.91,219.38 2477.08,219.27 2477.25,219.16 2477.43,219.06 2477.60,218.95 2477.78,218.85 2477.95,218.76 2478.13,218.66 2478.31,218.57 2478.50,218.49 2478.68,218.39 2478.83,218.24 2478.96,218.02 2479.07,217.71 2479.15,217.33 2479.22,216.87 2479.29,216.36 2479.37,215.83 2479.47,215.30 2479.60,214.82 2479.77,214.43 2479.97,214.16 2480.22,214.03 2480.48,213.98 2480.74,213.93 2481.01,213.89 2481.27,213.85 2481.54,213.81 2481.80,213.78 2482.07,213.76 2482.33,213.74 2482.60,213.72 2482.87,213.71 2483.13,213.70"/><circle cx="2483.4" cy="229" r="4.9"/></g><g fill="none" stroke="#262626" stroke-width="2.7" stroke-linecap="round" stroke-linejoin="round"><path d="M1263.4 134.6A11.8 11.8 0 0 1 1284.6 128.6"/><path d="M1286.6 137.4A11.8 11.8 0 0 1 1265.4 143.4"/></g><path d="M1286.9 123.2V131.9H1278.2" fill="none" stroke="#262626" stroke-width="2.7" stroke-linejoin="round" stroke-linecap="round"/><path d="M1286.9 123.2V131.9H1278.2Z" fill="#262626"/><path d="M1263.1 148.8V140.1H1271.8" fill="none" stroke="#262626" stroke-width="2.7" stroke-linejoin="round" stroke-linecap="round"/><path d="M1263.1 148.8V140.1H1271.8Z" fill="#262626"/><g fill="none" stroke="#262626" stroke-width="3" stroke-linecap="round" stroke-linejoin="round"><path d="M1823 122V148M1810 135H1836"/></g><g fill="none" stroke="#262626" stroke-width="3.0" stroke-linecap="round" stroke-linejoin="round"><ellipse cx="1193.7" cy="225.6" rx="14.2" ry="10.8"/><circle cx="1193.4" cy="225.8" r="4.5"/></g><path d="M1185.9 212.7L1208 235.2" stroke="#fff" stroke-width="2.2" fill="none"/><g fill="none" stroke="#262626" stroke-width="3.0" stroke-linecap="round" stroke-linejoin="round"><path d="M1182.5 214.1L1204.6 236.4"/></g><g fill="none" stroke="#262626" stroke-width="3.0" stroke-linecap="round" stroke-linejoin="round"><path d="M1328.4 211.8H1340.6C1343.4 211.8 1344.8 213.6 1344.3 216.3L1343 222C1342.3 224.6 1340.8 225.6 1338.3 226V236.2C1338.3 237.4 1337.8 237.9 1336.8 238.2L1332.6 239.4C1331.2 239.7 1330.6 239 1330.6 237.8V226C1328.2 225.6 1326.7 224.6 1326 222L1324.7 216.3C1324.2 213.6 1325.6 211.8 1328.4 211.8Z"/><path d="M1332 218H1337"/></g><g fill="none" stroke="#262626" stroke-width="3.0" stroke-linecap="round" stroke-linejoin="round"><path d="M2361.5 1077.6H2370.6V1086.7M2358.5 1098.6H2349.4V1089.5"/></g><g fill="none" stroke="#262626" stroke-width="3.0" stroke-linecap="round" stroke-linejoin="round"><rect x="2412.7" y="1077.4" width="25.4" height="21" rx="4.5"/><path d="M2430.6 1077.4V1098.4"/></g><g fill="none" stroke="#262626" stroke-width="3.0" stroke-linecap="round" stroke-linejoin="round"><path d="M2484.6 1080L2500.8 1096.2M2500.8 1080L2484.6 1096.2"/></g></svg>
</div></div></body></html>
